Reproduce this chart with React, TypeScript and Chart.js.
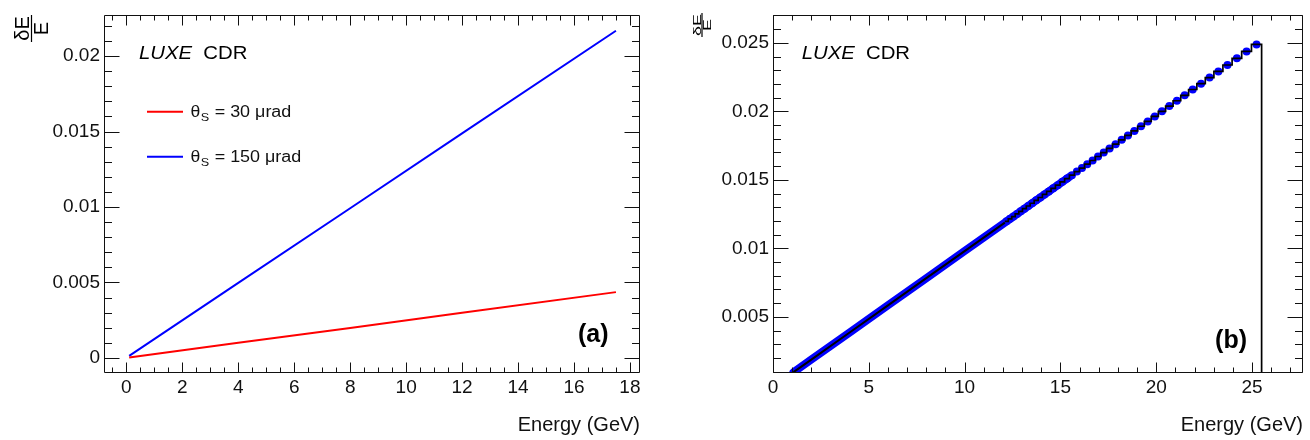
import React, { useEffect, useRef } from 'react';
import { Chart, registerables } from 'chart.js';

Chart.register(...registerables);

const FONT = "'Liberation Sans', Arial, Helvetica, sans-serif";

// ---------- Panel (a): resolution vs energy for two scattering angles ----------
const A_ENERGY = [0.1, 4, 8, 12, 17.5];
const A_THETA30 = [0.00003, 0.001, 0.00199, 0.00299, 0.00436];
const A_THETA150 = [0.00013, 0.00497, 0.00992, 0.01488, 0.02168];
const A_X_TICKS = [0, 2, 4, 6, 8, 10, 12, 14, 16, 18];
const A_X_LABELS = ['0', '2', '4', '6', '8', '10', '12', '14', '16', '18'];
const A_Y_TICKS = [0, 0.005, 0.01, 0.015, 0.02];
const A_Y_LABELS = ['0', '0.005', '0.01', '0.015', '0.02'];
const A_LEGEND = ['30 μrad', '150 μrad'];

// ---------- Panel (b): reconstructed resolution ----------
// low-energy profile line (fine bins merge into a smooth line)
const B_LINE_E = [1.07, 2, 4, 6, 8, 10, 12.1];
const B_LINE_RES = [0.00096, 0.00188, 0.00386, 0.00584, 0.00782, 0.0098, 0.01188];
// dense marker band (markers overlap into a continuous band)
const B_BAND_E = [1.07, 2, 4, 6, 8, 10, 12, 14, 15.5];
const B_BAND_RES = [0.00096, 0.00188, 0.00386, 0.00584, 0.00782, 0.0098, 0.01178, 0.01376, 0.01525];
// high-energy histogram bins (edges) and contents
const B_BIN_EDGES = [
  12.1, 12.28, 12.46, 12.64, 12.83, 13.02, 13.22, 13.42, 13.63, 13.84, 14.06, 14.28, 14.51, 14.74,
  14.98, 15.22, 15.47, 15.73, 15.99, 16.26, 16.54, 16.82, 17.11, 17.41, 17.72, 18.04, 18.36, 18.69,
  19.03, 19.38, 19.74, 20.11, 20.49, 20.88, 21.28, 21.69, 22.12, 22.56, 23.01, 23.48, 23.96, 24.46,
  24.97, 25.5,
];
const B_BIN_RES = [
  0.01197, 0.01215, 0.01232, 0.01251, 0.0127, 0.01289, 0.01309, 0.01329, 0.0135, 0.01371, 0.01393,
  0.01415, 0.01438, 0.01461, 0.01485, 0.01509, 0.01534, 0.0156, 0.01586, 0.01614, 0.01641, 0.0167,
  0.01699, 0.01729, 0.0176, 0.01792, 0.01824, 0.01857, 0.01891, 0.01926, 0.01963, 0.02, 0.02038,
  0.02077, 0.02117, 0.02159, 0.02202, 0.02246, 0.02291, 0.02338, 0.02387, 0.02437, 0.02488,
];
const B_X_TICKS = [0, 5, 10, 15, 20, 25];
const B_X_LABELS = ['0', '5', '10', '15', '20', '25'];
const B_Y_TICKS = [0.005, 0.01, 0.015, 0.02, 0.025];
const B_Y_LABELS = ['0.005', '0.01', '0.015', '0.02', '0.025'];

const A_RANGE = { xMin: -0.8, xMax: 18.36, yMin: -0.001, yMax: 0.0227 };
const B_RANGE = { xMin: 0, xMax: 27.66, yMin: 0.0009, yMax: 0.027 };

function multiples(min: number, max: number, step: number) {
  const out: number[] = [];
  for (let i = Math.ceil(min / step - 1e-9); i * step <= max + 1e-12; i++) out.push(i * step);
  return out;
}

function stretchedText(ctx: any, text: string, x: number, y: number, font: string, sx: number, align: string = 'left') {
  ctx.save();
  ctx.font = font;
  const w = ctx.measureText(text).width * sx;
  const x0 = align === 'right' ? x - w : x;
  ctx.translate(x0, y);
  ctx.scale(sx, 1);
  ctx.textBaseline = 'alphabetic';
  ctx.textAlign = 'left';
  ctx.fillText(text, 0, 0);
  ctx.restore();
  return w;
}

function drawLuxe(ctx: any, x: number, y: number, size: number, sx: number) {
  ctx.save();
  ctx.fillStyle = '#000';
  const w = stretchedText(ctx, 'LUXE', x, y, `italic ${size}px ${FONT}`, sx);
  stretchedText(ctx, 'CDR', x + w + size * 0.55 * sx, y, `${size}px ${FONT}`, sx);
  ctx.restore();
}

function drawFraction(ctx: any, barX: number, cy: number, size: number, xs: number, barLen: number, numOff: number, denOff: number) {
  ctx.save();
  ctx.fillStyle = '#000';
  ctx.strokeStyle = '#000';
  ctx.translate(barX, cy);
  ctx.scale(xs, 1);
  ctx.rotate(-Math.PI / 2);
  ctx.font = `${size}px ${FONT}`;
  ctx.textAlign = 'center';
  ctx.textBaseline = 'alphabetic';
  ctx.fillText('δE', 0, -numOff / xs);
  ctx.fillText('E', 0, denOff / xs);
  ctx.lineWidth = 1.2 / xs;
  ctx.beginPath();
  ctx.moveTo(-barLen / 2, 0);
  ctx.lineTo(barLen / 2, 0);
  ctx.stroke();
  ctx.restore();
}

function framePlugin(cfg: any) {
  return {
    id: 'rootFrame',
    afterDatasetsDraw(chart: any) {
      const { ctx, chartArea: a, scales } = chart;
      const xs = scales.x;
      const ys = scales.y;
      const L = Math.round(a.left) + 0.5;
      const R = Math.round(a.right) - 0.5;
      const T = Math.round(a.top) + 0.5;
      const B = Math.round(a.bottom) - 0.5;
      ctx.save();
      ctx.strokeStyle = '#111';
      ctx.lineWidth = 1;
      ctx.beginPath();
      ctx.rect(L, T, R - L, B - T);
      const xt = (v: number, len: number) => {
        const p = Math.round(xs.getPixelForValue(v)) + 0.5;
        if (p < L - 0.2 || p > R + 0.2) return;
        ctx.moveTo(p, B);
        ctx.lineTo(p, B - len);
        ctx.moveTo(p, T);
        ctx.lineTo(p, T + len);
      };
      const yt = (v: number, len: number) => {
        const p = Math.round(ys.getPixelForValue(v)) + 0.5;
        if (p < T - 0.2 || p > B + 0.2) return;
        ctx.moveTo(L, p);
        ctx.lineTo(L + len, p);
        ctx.moveTo(R, p);
        ctx.lineTo(R - len, p);
      };
      multiples(xs.min, xs.max, cfg.xMinor).forEach((v) => xt(v, 5));
      cfg.xMajor.forEach((v: number) => xt(v, 10));
      multiples(ys.min, ys.max, cfg.yMinor).forEach((v) => yt(v, 7.5));
      cfg.yMajor.forEach((v: number) => yt(v, 15));
      ctx.stroke();
      ctx.restore();
    },
    afterDraw(chart: any) {
      cfg.drawText(chart.ctx, chart);
    },
  };
}

function makeScales(range: any, xTicks: number[], xLabels: string[], yTicks: number[], yLabels: string[], yWidth: number) {
  return {
    x: {
      type: 'linear',
      min: range.xMin,
      max: range.xMax,
      grid: { display: false, drawTicks: false },
      border: { display: false },
      ticks: {
        font: { family: FONT, size: 19 },
        color: '#111',
        padding: 3,
        maxRotation: 0,
        autoSkip: false,
        callback: (_v: any, i: number) => xLabels[i],
      },
      afterBuildTicks: (s: any) => {
        s.ticks = xTicks.map((v) => ({ value: v }));
      },
      afterFit: (s: any) => {
        s.height = 67;
      },
      title: {
        display: true,
        text: 'Energy (GeV)',
        align: 'end',
        color: '#111',
        font: { family: FONT, size: 20 },
        padding: { top: 0, bottom: 3 },
      },
    },
    y: {
      type: 'linear',
      min: range.yMin,
      max: range.yMax,
      grid: { display: false, drawTicks: false },
      border: { display: false },
      ticks: {
        font: { family: FONT, size: 19 },
        color: '#111',
        padding: 4,
        autoSkip: false,
        callback: (_v: any, i: number) => yLabels[i],
      },
      afterBuildTicks: (s: any) => {
        s.ticks = yTicks.map((v) => ({ value: v }));
      },
      afterFit: (s: any) => {
        s.width = yWidth;
      },
    },
  };
}

function useChart(ref: any, build: () => any) {
  useEffect(() => {
    if (!ref.current) return;
    const chart = new Chart(ref.current, build());
    return () => chart.destroy();
  }, []);
}

function PanelA() {
  const ref = useRef<HTMLCanvasElement>(null);
  useChart(ref, () => {
    const red = A_ENERGY.map((x, i) => ({ x, y: A_THETA30[i] }));
    const blue = A_ENERGY.map((x, i) => ({ x, y: A_THETA150[i] }));
    const plugin = framePlugin({
      xMajor: A_X_TICKS,
      xMinor: 0.5,
      yMajor: A_Y_TICKS,
      yMinor: 0.001,
      drawText: (ctx: any) => {
        drawLuxe(ctx, 139, 59.3, 19, 1.07);
        const rows = [
          { color: '#ff0000', y: 111.7, label: A_LEGEND[0] },
          { color: '#0000ff', y: 156.7, label: A_LEGEND[1] },
        ];
        rows.forEach((r) => {
          ctx.save();
          ctx.strokeStyle = r.color;
          ctx.lineWidth = 2;
          ctx.beginPath();
          ctx.moveTo(147, r.y);
          ctx.lineTo(183, r.y);
          ctx.stroke();
          ctx.fillStyle = '#111';
          const base = r.y + 5.6;
          let x = 190.5;
          x += stretchedText(ctx, 'θ', x, base, `16px ${FONT}`, 1.1);
          x += stretchedText(ctx, 'S', x + 0.5, base + 4, `11.5px ${FONT}`, 1.1) + 1;
          stretchedText(ctx, ' = ' + r.label, x, base, `16px ${FONT}`, 1.12);
          ctx.restore();
        });
        ctx.save();
        ctx.fillStyle = '#000';
        stretchedText(ctx, '(a)', 608.5, 341.5, `bold 25px ${FONT}`, 1.0, 'right');
        ctx.restore();
        drawFraction(ctx, 31.5, 28.5, 20, 1, 27, 2.5, 16.5);
      },
    });
    return {
      type: 'scatter',
      data: {
        datasets: [
          { data: red, showLine: true, borderColor: '#ff0000', borderWidth: 2, pointRadius: 0, order: 0 },
          { data: blue, showLine: true, borderColor: '#0000ff', borderWidth: 2, pointRadius: 0, order: 0 },
        ],
      },
      options: {
        animation: false,
        responsive: false,
        maintainAspectRatio: false,
        events: [],
        layout: { padding: { left: 0, right: 15, top: 13, bottom: 0 } },
        plugins: { legend: { display: false }, tooltip: { enabled: false }, title: { display: false } },
        scales: makeScales(A_RANGE, A_X_TICKS, A_X_LABELS, A_Y_TICKS, A_Y_LABELS, 104),
      },
      plugins: [plugin],
    };
  });
  return (
    <canvas ref={ref} width={655} height={440} style={{ position: 'absolute', left: 0, top: 0, width: 655, height: 440 }} />
  );
}

function PanelB() {
  const ref = useRef<HTMLCanvasElement>(null);
  useChart(ref, () => {
    const line = B_LINE_E.map((x, i) => ({ x, y: B_LINE_RES[i] }));
    const band = B_BAND_E.map((x, i) => ({ x, y: B_BAND_RES[i] }));
    const steps = B_BIN_RES.map((y, i) => ({ x: B_BIN_EDGES[i], y }));
    steps.push({ x: B_BIN_EDGES[B_BIN_EDGES.length - 1], y: B_BIN_RES[B_BIN_RES.length - 1] });
    steps.push({ x: B_BIN_EDGES[B_BIN_EDGES.length - 1], y: B_RANGE.yMin });
    const markers = B_BIN_RES.map((y, i) => ({ x: (B_BIN_EDGES[i] + B_BIN_EDGES[i + 1]) / 2, y }));
    const plugin = framePlugin({
      xMajor: B_X_TICKS,
      xMinor: 1,
      yMajor: B_Y_TICKS,
      yMinor: 0.001,
      drawText: (ctx: any) => {
        drawLuxe(ctx, 146.7, 59, 19, 1.07);
        ctx.save();
        ctx.fillStyle = '#000';
        stretchedText(ctx, '(b)', 592, 348, `bold 25px ${FONT}`, 1.0, 'right');
        ctx.restore();
        drawFraction(ctx, 47, 25, 18, 0.6, 24, 1.5, 9);
      },
    });
    return {
      type: 'scatter',
      data: {
        datasets: [
          { data: steps, showLine: true, stepped: 'before', borderColor: '#000', borderWidth: 1.7, pointRadius: 0, order: 0, clip: 0 },
          { data: line, showLine: true, borderColor: '#000', borderWidth: 2, pointRadius: 0, order: 0, clip: 0 },
          {
            data: markers,
            showLine: false,
            pointRadius: 4,
            pointBackgroundColor: '#0000ff',
            pointBorderColor: '#0000ff',
            pointBorderWidth: 0,
            order: 1,
            clip: 0,
          },
          {
            data: band,
            showLine: true,
            borderColor: '#0000ff',
            borderWidth: 8,
            borderCapStyle: 'round',
            pointRadius: 0,
            order: 2,
            clip: 0,
          },
        ],
      },
      options: {
        animation: false,
        responsive: false,
        maintainAspectRatio: false,
        events: [],
        layout: { padding: { left: 0, right: 7, top: 13, bottom: 0 } },
        plugins: { legend: { display: false }, tooltip: { enabled: false }, title: { display: false } },
        scales: makeScales(B_RANGE, B_X_TICKS, B_X_LABELS, B_Y_TICKS, B_Y_LABELS, 118),
      },
      plugins: [plugin],
    };
  });
  return (
    <canvas ref={ref} width={655} height={440} style={{ position: 'absolute', left: 655, top: 0, width: 655, height: 440 }} />
  );
}

export default function App() {
  return (
    <div style={{ position: 'fixed', left: 0, top: 0, width: 1310, height: 440, background: '#fff', overflow: 'hidden' }}>
      <PanelA />
      <PanelB />
    </div>
  );
}
